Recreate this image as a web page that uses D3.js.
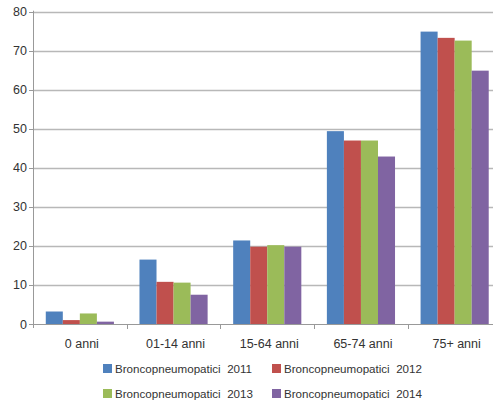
<!DOCTYPE html>
<html lang="it">
<meta charset="utf-8"/>
<head>
<style>
  body { margin: 0; background: #fff; }
  svg text { font-family: "Liberation Sans", sans-serif; fill: #333; }
</style>
</head>
<body>
<svg id="chart" width="493" height="417"></svg>

<script src="https://d3js.org/d3.v7.min.js"></script>
<script>
let categories = ["0 anni", "01-14 anni", "15-64 anni", "65-74 anni", "75+ anni"]
let seriesNames = ["Broncopneumopatici  2011", "Broncopneumopatici  2012", "Broncopneumopatici  2013", "Broncopneumopatici  2014"]
let v2011 = [3.2, 16.5, 21.4, 49.4, 74.9]
let v2012 = [1.0, 10.8, 19.8, 47.0, 73.3]
let v2013 = [2.7, 10.6, 20.2, 47.0, 72.6]
let v2014 = [0.6, 7.5, 19.8, 42.9, 64.9]
let yTicks = [0, 10, 20, 30, 40, 50, 60, 70, 80]
let colors = ["#4F81BD", "#C0504D", "#9BBB59", "#8064A2"]

let series = [v2011, v2012, v2013, v2014]
let svg = d3.select("#chart")

let plotLeft = 33, plotRight = 501.5, plotTop = 11.7, plotBottom = 324

let x = d3.scaleBand()
    .domain(categories)
    .range([plotLeft, plotRight])
    .paddingInner(0)
    .paddingOuter(0)

let x1 = d3.scaleBand()
    .domain(d3.range(4))
    .range([0, x.bandwidth()])
    .paddingOuter(0.75)
    .paddingInner(0)

let y = d3.scaleLinear()
    .domain([0, 80])
    .range([plotBottom, plotTop])

// gridlines
svg.append("g")
    .selectAll("line")
    .data(yTicks.filter(d => d > 0))
    .enter()
    .append("line")
    .attr("x1", plotLeft)
    .attr("x2", 493)
    .attr("y1", d => Math.round(y(d)) + 0.5)
    .attr("y2", d => Math.round(y(d)) + 0.5)
    .attr("stroke", "#b8b8b8")
    .attr("stroke-width", 1.3)

// y axis labels + ticks
svg.append("g")
    .selectAll("text")
    .data(yTicks)
    .enter()
    .append("text")
    .attr("x", 27)
    .attr("y", d => y(d) + 4.5)
    .attr("text-anchor", "end")
    .attr("font-size", 12.5)
    .text(d => d)

svg.append("g")
    .selectAll("line")
    .data(yTicks)
    .enter()
    .append("line")
    .attr("x1", plotLeft - 4)
    .attr("x2", plotLeft)
    .attr("y1", d => Math.round(y(d)) + 0.5)
    .attr("y2", d => Math.round(y(d)) + 0.5)
    .attr("stroke", "#999")

// bars
let groups = svg.append("g")
    .selectAll("g")
    .data(categories)
    .enter()
    .append("g")
    .attr("transform", d => "translate(" + x(d) + ",0)")

groups.selectAll("rect")
    .data((d, i) => series.map((s, k) => ({ k: k, v: s[i] })))
    .enter()
    .append("rect")
    .attr("x", d => x1(d.k))
    .attr("width", x1.bandwidth())
    .attr("y", d => y(d.v))
    .attr("height", d => plotBottom - y(d.v))
    .attr("fill", d => colors[d.k])

// axes lines
svg.append("line")
    .attr("x1", plotLeft + 0.5).attr("x2", plotLeft + 0.5)
    .attr("y1", plotTop - 1).attr("y2", plotBottom + 4)
    .attr("stroke", "#999")
svg.append("line")
    .attr("x1", plotLeft).attr("x2", 493)
    .attr("y1", Math.round(plotBottom) + 0.5).attr("y2", Math.round(plotBottom) + 0.5)
    .attr("stroke", "#999")

// category ticks
svg.append("g")
    .selectAll("line")
    .data(categories.slice(1))
    .enter()
    .append("line")
    .attr("x1", d => Math.round(x(d)) + 0.5)
    .attr("x2", d => Math.round(x(d)) + 0.5)
    .attr("y1", plotBottom)
    .attr("y2", plotBottom + 5)
    .attr("stroke", "#999")

svg.append("g")
    .selectAll("text")
    .data(categories)
    .enter()
    .append("text")
    .attr("x", d => x(d) + x.bandwidth() / 2 + 2)
    .attr("y", 348)
    .attr("text-anchor", "middle")
    .attr("font-size", 12.5)
    .text(d => d)

// legend
let legendPos = [[103, 373], [272, 373], [103, 398], [272, 398]]
let legend = svg.append("g")
    .selectAll("g")
    .data(seriesNames)
    .enter()
    .append("g")
    .attr("transform", (d, i) => "translate(" + legendPos[i][0] + "," + legendPos[i][1] + ")")

legend.append("rect")
    .attr("x", 0)
    .attr("y", -9)
    .attr("width", 9)
    .attr("height", 9)
    .attr("fill", (d, i) => colors[i])

legend.append("text")
    .attr("x", 12)
    .attr("y", 0)
    .attr("font-size", 11.6)
    .style("white-space", "pre")
    .text(d => d)
</script>
</body>
</html>
